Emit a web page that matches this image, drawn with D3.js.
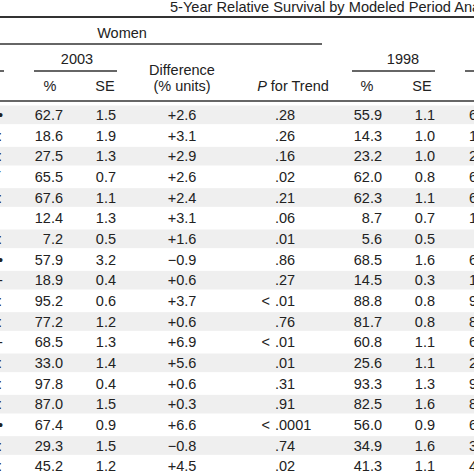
<!DOCTYPE html><html><head><meta charset="utf-8">
<script src="https://cdn.jsdelivr.net/npm/d3@7"></script>
<style>body{margin:0;background:#fff}svg{display:block}</style></head><body>
<script>
const pct2003=["62.7","18.6","27.5","65.5","67.6","12.4","7.2","57.9","18.9","95.2","77.2","68.5","33.0","97.8","87.0","67.4","29.3","45.2"];
const se2003=["1.5","1.9","1.3","0.7","1.1","1.3","0.5","3.2","0.4","0.6","1.2","1.3","1.4","0.4","1.5","0.9","1.5","1.2"];
const diff=["+2.6","+3.1","+2.9","+2.6","+2.4","+3.1","+1.6","\u22120.9","+0.6","+3.7","+0.6","+6.9","+5.6","+0.6","+0.3","+6.6","\u22120.8","+4.5"];
const ptrend=[".28",".26",".16",".02",".21",".06",".01",".86",".27","<.01",".76","<.01",".01",".31",".91","<.0001",".74",".02"];
const pct1998=["55.9","14.3","23.2","62.0","62.3","8.7","5.6","68.5","14.5","88.8","81.7","60.8","25.6","93.3","82.5","56.0","34.9","41.3"];
const se1998=["1.1","1.0","1.0","0.8","1.1","0.7","0.5","1.6","0.3","0.8","0.8","1.1","1.1","1.3","1.6","0.9","1.6","1.1"];
const nextCol=["6","1","2","6","6","1","","6","1","9","8","6","2","9","8","6","3","4"];
const leftCol=["\u2022",":",":","\u02d9",":","",":","\u2022","-",":",":","-",":",":",":","\u2022",":",":"];

const W=474,H=474;
const svg=d3.select("body").append("svg").attr("width",W).attr("height",H)
  .style("font-family","'Liberation Sans',Arial,sans-serif").style("fill","#222");
const y=d3.scaleBand().domain(d3.range(pct2003.length)).range([104.5,476.5]).padding(0);
const fs=14.5;
svg.selectAll("rect.sh").data(d3.range(pct2003.length).filter(i=>i%2===0)).join("rect")
  .attr("x",0).attr("width",W).attr("y",i=>y(i)+1).attr("height",y.bandwidth()-2).attr("fill","#efefef");
const line=(x1,x2,yy,w)=>svg.append("line").attr("x1",x1).attr("x2",x2).attr("y1",yy).attr("y2",yy).attr("stroke","#333").attr("stroke-width",w);
line(0,W,17,2);line(0,322,44,1.5);line(34,117,71,1.5);line(352,435,71,1.5);line(0,4,71,1.5);line(465,W,71,1.5);line(0,W,101,1.5);
const txt=(s,x,yy,anchor)=>svg.append("text").attr("x",x).attr("y",yy).attr("text-anchor",anchor).attr("font-size",fs).text(s);
txt("5-Year Relative Survival by Modeled Period Ana",170,12,"start").attr("font-size",14.6);
txt("Women",122,38,"middle");
txt("2003",77,64,"middle");txt("1998",403,64,"middle");
txt("Difference",182,75,"middle");txt("(% units)",182,91,"middle");
const pt=svg.append("text").attr("x",293).attr("y",91).attr("text-anchor","middle").attr("font-size",fs);
pt.append("tspan").attr("font-style","italic").text("P");pt.append("tspan").text(" for Trend");
txt("%",50,91,"middle");txt("SE",105,91,"middle");txt("%",367,91,"middle");txt("SE",422,91,"middle");
const cy=i=>y(i)+y.bandwidth()/2+5;
const col=(arr,x,anchor)=>svg.append("g").selectAll("text").data(arr).join("text")
  .attr("x",x).attr("y",(d,i)=>cy(i)).attr("text-anchor",anchor).attr("font-size",fs).text(d=>d);
col(pct2003,63,"end");col(se2003,116,"end");col(diff,182,"middle");
col(ptrend.map(p=>p.replace("<","")),275,"start");
col(ptrend.map(p=>p.startsWith("<")?"<":""),270,"end");
col(pct1998,382,"end");col(se1998,435,"end");col(nextCol,469,"start");col(leftCol,-2,"start");
</script></body></html>
